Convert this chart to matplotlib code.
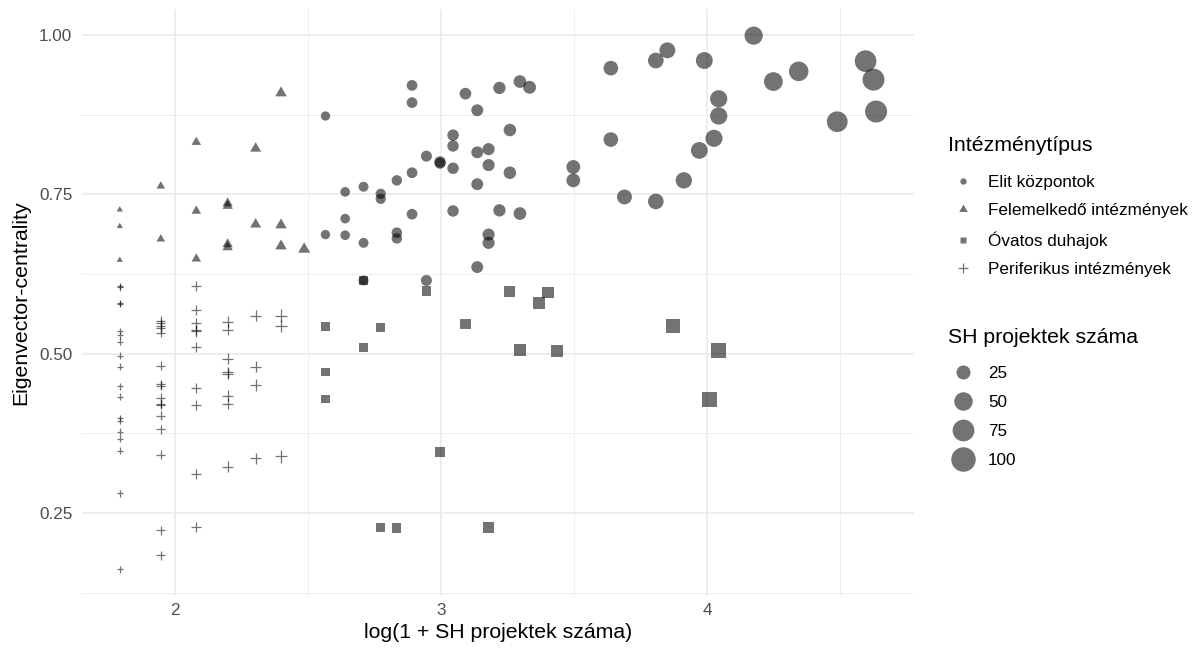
import numpy as np
import matplotlib.pyplot as plt
from matplotlib.lines import Line2D

plt.rcParams['font.family'] = ['Liberation Sans', 'DejaVu Sans']

# SH projekt counts (n) and eigenvector centrality per institution type
elit_n = [12, 12, 13, 13, 13, 14, 14, 14, 15, 15, 16, 16, 16, 17, 17, 17, 17,
          18, 18, 19, 19, 20, 20, 20, 20, 21, 22, 22, 22, 22, 23, 23, 23, 23,
          24, 24, 25, 25, 26, 26, 27, 32, 32, 37, 37, 39, 44, 44, 46, 49, 52,
          53, 55, 56, 56, 64, 69, 76, 88, 98, 101, 102]
elit_y = [0.873, 0.687, 0.754, 0.712, 0.686, 0.762, 0.674, 0.615, 0.751, 0.743,
          0.772, 0.690, 0.681, 0.921, 0.894, 0.784, 0.719, 0.810, 0.615, 0.801,
          0.799, 0.843, 0.826, 0.791, 0.724, 0.908, 0.882, 0.816, 0.766, 0.636,
          0.821, 0.796, 0.687, 0.674, 0.917, 0.725, 0.851, 0.784, 0.927, 0.720,
          0.918, 0.793, 0.772, 0.948, 0.836, 0.746, 0.960, 0.739, 0.976, 0.772,
          0.819, 0.960, 0.838, 0.900, 0.873, 0.999, 0.927, 0.943, 0.864, 0.959,
          0.930, 0.880]

fel_n = [5, 5, 5, 6, 6, 7, 7, 7, 8, 8, 8, 8, 9, 9, 10, 10, 10, 11]
fel_y = [0.726, 0.700, 0.647, 0.763, 0.680, 0.832, 0.724, 0.649, 0.736, 0.732,
         0.672, 0.667, 0.822, 0.703, 0.909, 0.702, 0.669, 0.664]

ovat_n = [12, 12, 12, 14, 14, 15, 15, 16, 18, 19, 21, 23, 25, 26, 28, 29, 30,
          47, 54, 56]
ovat_y = [0.543, 0.472, 0.429, 0.615, 0.510, 0.541, 0.228, 0.227, 0.598, 0.346,
          0.547, 0.227, 0.598, 0.506, 0.580, 0.596, 0.504, 0.544, 0.429, 0.505]

peri_n = [5] * 18 + [6] * 16 + [7] * 10 + [8] * 8 + [9] * 4 + [10] * 3
peri_y = [0.606, 0.604, 0.580, 0.578, 0.536, 0.529, 0.519, 0.497, 0.480, 0.449,
          0.433, 0.399, 0.395, 0.378, 0.367, 0.348, 0.281, 0.162,
          0.552, 0.548, 0.544, 0.540, 0.533, 0.481, 0.452, 0.450, 0.431, 0.422,
          0.420, 0.403, 0.382, 0.342, 0.223, 0.184,
          0.606, 0.568, 0.549, 0.537, 0.535, 0.510, 0.447, 0.420, 0.312, 0.228,
          0.550, 0.538, 0.492, 0.471, 0.469, 0.434, 0.422, 0.323,
          0.560, 0.480, 0.451, 0.336,
          0.560, 0.543, 0.339]

type_labels = ['Elit központok', 'Felemelkedő intézmények', 'Óvatos duhajok',
               'Periferikus intézmények']
size_breaks = [25, 50, 75, 100]

all_n = np.array(elit_n + fel_n + ovat_n + peri_n)
n_min, n_max = all_n.min(), all_n.max()


def diam_pt(n):
    # ggplot-like area scale, size range 1..6
    size = 1 + 5 * np.sqrt((np.asarray(n, float) - n_min) / (n_max - n_min))
    return 3.48 * (size + 0.33) * 0.72


tri = [(0, 1), (-0.866, -0.5), (0.866, -0.5), (0, 1)]
col = 'black'
alpha = 0.55

fig = plt.figure(figsize=(12, 6.5), dpi=100)
ax = fig.add_axes([0.0683, 0.0831, 0.6933, 0.9031])

ax.scatter(np.log1p(elit_n), elit_y, s=diam_pt(elit_n) ** 2, marker='o',
           color=col, alpha=alpha, linewidths=0)
ax.scatter(np.log1p(fel_n), fel_y, s=(1.555 * diam_pt(fel_n)) ** 2, marker=tri,
           color=col, alpha=alpha, linewidths=0)
ax.scatter(np.log1p(ovat_n), ovat_y, s=(0.886 * diam_pt(ovat_n)) ** 2, marker='s',
           color=col, alpha=alpha, linewidths=0)
ax.scatter(np.log1p(peri_n), peri_y, s=(1.414 * diam_pt(peri_n)) ** 2, marker='+',
           color=col, alpha=alpha, linewidths=0.9)

xs = np.log1p(all_n)
ys = np.array(elit_y + fel_y + ovat_y + peri_y)
xr = xs.max() - xs.min()
yr = ys.max() - ys.min()
ax.set_xlim(xs.min() - 0.05 * xr, xs.max() + 0.05 * xr)
ax.set_ylim(ys.min() - 0.05 * yr, ys.max() + 0.05 * yr)

ax.set_xticks([2, 3, 4])
ax.set_xticks([2.5, 3.5, 4.5], minor=True)
ax.set_yticks([0.25, 0.5, 0.75, 1.0])
ax.set_yticklabels(['0.25', '0.50', '0.75', '1.00'])
ax.set_yticks([0.125, 0.375, 0.625, 0.875], minor=True)
ax.grid(which='major', color='#ebebeb', lw=1.2)
ax.grid(which='minor', color='#ebebeb', lw=0.6)
ax.set_axisbelow(True)
for sp in ax.spines.values():
    sp.set_visible(False)
ax.tick_params(which='both', length=0, labelsize=12.3, labelcolor='#4d4d4d')
ax.tick_params(axis='x', pad=5)
ax.tick_params(axis='y', pad=7)

ax.set_xlabel('log(1 + SH projektek száma)', fontsize=15.3, labelpad=4)
ax.set_ylabel('Eigenvector-centrality', fontsize=15.3, labelpad=6)

# legends (titles as plain text so the gaps match)
fig.text(0.79, 0.7769, 'Intézménytípus', fontsize=15.3, va='center', ha='left')
fig.text(0.79, 0.4815, 'SH projektek száma', fontsize=15.3, va='center', ha='left')

d_leg = 3.48 * (1.5 + 0.33) * 0.72
shape_handles = [
    Line2D([], [], ls='none', marker='o', ms=d_leg, mfc=col, mec='none', alpha=alpha),
    Line2D([], [], ls='none', marker=tri, ms=1.555 * d_leg, mfc=col, mec='none', alpha=alpha),
    Line2D([], [], ls='none', marker='s', ms=0.886 * d_leg, mfc=col, mec='none', alpha=alpha),
    Line2D([], [], ls='none', marker='+', ms=1.414 * d_leg, mec=col, mew=0.9, alpha=alpha),
]
leg1 = fig.legend(shape_handles, type_labels,
                  loc='upper left', bbox_to_anchor=(0.7883, 0.7305), frameon=False,
                  fontsize=12.3, handlelength=2.0, handletextpad=0.47,
                  labelspacing=0.76, borderpad=0, borderaxespad=0)
size_handles = [Line2D([], [], ls='none', marker='o', ms=1.12 * float(diam_pt(b)),
                       mfc=col, mec='none', alpha=alpha) for b in size_breaks]
leg2 = fig.legend(size_handles, [str(b) for b in size_breaks],
                  loc='upper left', bbox_to_anchor=(0.7883, 0.4375), frameon=False,
                  fontsize=12.3, handlelength=2.0, handletextpad=0.47,
                  labelspacing=0.83, borderpad=0, borderaxespad=0)

fig.savefig('out.png', dpi=100)
